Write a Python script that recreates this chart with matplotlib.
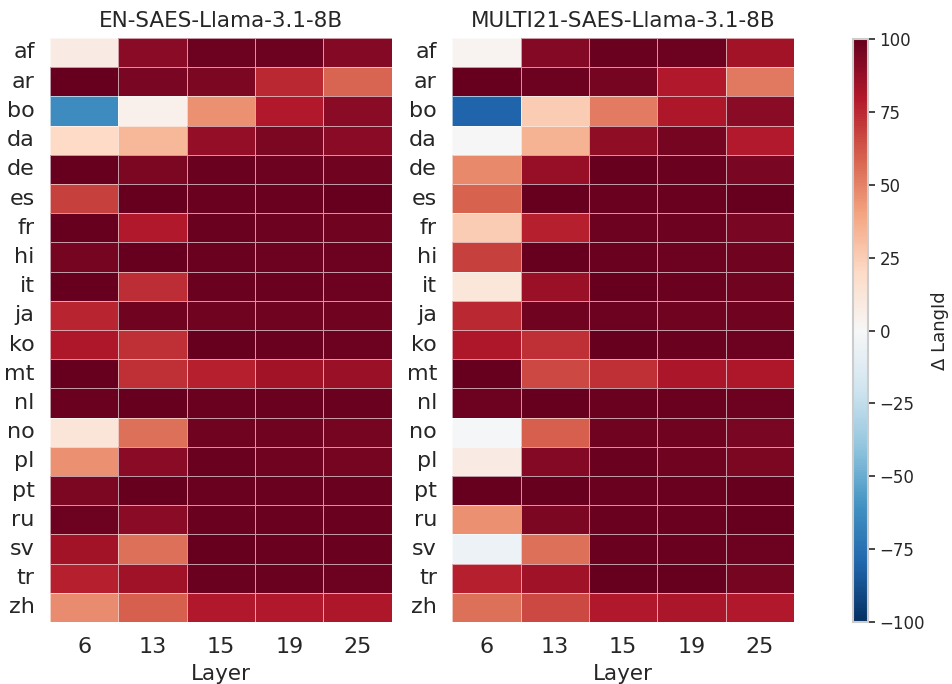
import numpy as np
import pandas as pd
import matplotlib
matplotlib.use("Agg")
import matplotlib.pyplot as plt
import seaborn as sns

languages = ["af", "ar", "bo", "da", "de", "es", "fr", "hi", "it", "ja",
             "ko", "mt", "nl", "no", "pl", "pt", "ru", "sv", "tr", "zh"]
layers = [6, 13, 15, 19, 25]

en_vals = [
    [8, 90, 98, 98, 92],
    [100, 95, 94, 75, 58],
    [-63, 5, 46, 80, 90],
    [20, 33, 88, 94, 90],
    [100, 94, 99, 98, 97],
    [68, 100, 99, 99, 100],
    [100, 80, 99, 98, 97],
    [96, 100, 99, 98, 98],
    [100, 74, 99, 99, 98],
    [76, 97, 97, 97, 97],
    [81, 73, 100, 99, 98],
    [100, 73, 78, 84, 86],
    [99, 100, 99, 99, 99],
    [13, 55, 97, 97, 96],
    [46, 90, 99, 97, 96],
    [94, 100, 99, 99, 99],
    [98, 90, 99, 99, 99],
    [84, 55, 100, 99, 99],
    [78, 85, 99, 99, 98],
    [47, 60, 80, 80, 81],
]

multi_vals = [
    [3, 92, 99, 98, 84],
    [100, 98, 96, 80, 53],
    [-80, 25, 52, 81, 90],
    [0, 35, 89, 96, 79],
    [48, 87, 100, 99, 95],
    [59, 100, 99, 99, 100],
    [25, 78, 98, 98, 95],
    [68, 100, 99, 98, 97],
    [12, 86, 100, 99, 97],
    [75, 97, 98, 97, 97],
    [81, 73, 100, 99, 98],
    [100, 66, 73, 82, 81],
    [98, 100, 99, 99, 98],
    [-1, 60, 97, 97, 95],
    [8, 92, 99, 97, 94],
    [100, 100, 99, 99, 100],
    [46, 94, 99, 99, 100],
    [-6, 55, 99, 99, 98],
    [78, 85, 100, 100, 96],
    [55, 66, 80, 82, 80],
]

titles = ["EN-SAES-Llama-3.1-8B", "MULTI21-SAES-Llama-3.1-8B"]

sns.set_theme(style="white")
plt.rcParams['font.family'] = ['DejaVu Sans']

fig = plt.figure(figsize=(9.52, 6.84), dpi=100)
ax1 = fig.add_axes([0.0525, 0.0906, 0.359, 0.854])
ax2 = fig.add_axes([0.475, 0.0906, 0.359, 0.854])
cax = fig.add_axes([0.896, 0.0906, 0.0155, 0.852])

for ax, vals, title, cbar in [(ax1, en_vals, titles[0], False),
                              (ax2, multi_vals, titles[1], True)]:
    df = pd.DataFrame(vals, index=languages, columns=layers)
    sns.heatmap(df, ax=ax, cmap="RdBu_r", vmin=-100, vmax=100,
                linewidths=0.5, linecolor=(1, 1, 1, 0.6),
                cbar=cbar, cbar_ax=cax if cbar else None)
    ax.set_title(title, fontsize=15.5, color="#262626", pad=8)
    ax.set_xlabel("Layer", fontsize=15.5, color="#262626", labelpad=5)
    ax.set_ylabel("")
    ax.tick_params(axis="both", length=0, labelsize=16, colors="#262626")
    ax.tick_params(axis="y", pad=11)
    ax.tick_params(axis="x", pad=11)
    ax.set_yticklabels(languages, rotation=0)
    ax.set_xticklabels([str(l) for l in layers], rotation=0)

cax.set_ylabel("Δ LangId", fontsize=13, color="#262626", labelpad=4)
cax.yaxis.set_label_position("right")
cax.tick_params(axis="y", length=5, width=1.2, labelsize=12, colors="#262626", right=True)
cax.set_yticks([-100, -75, -50, -25, 0, 25, 50, 75, 100])
cbar_obj = ax2.collections[0].colorbar
cbar_obj.outline.set_edgecolor("#cccccc")
cbar_obj.outline.set_linewidth(1.5)

fig.savefig("out.png", dpi=100)
